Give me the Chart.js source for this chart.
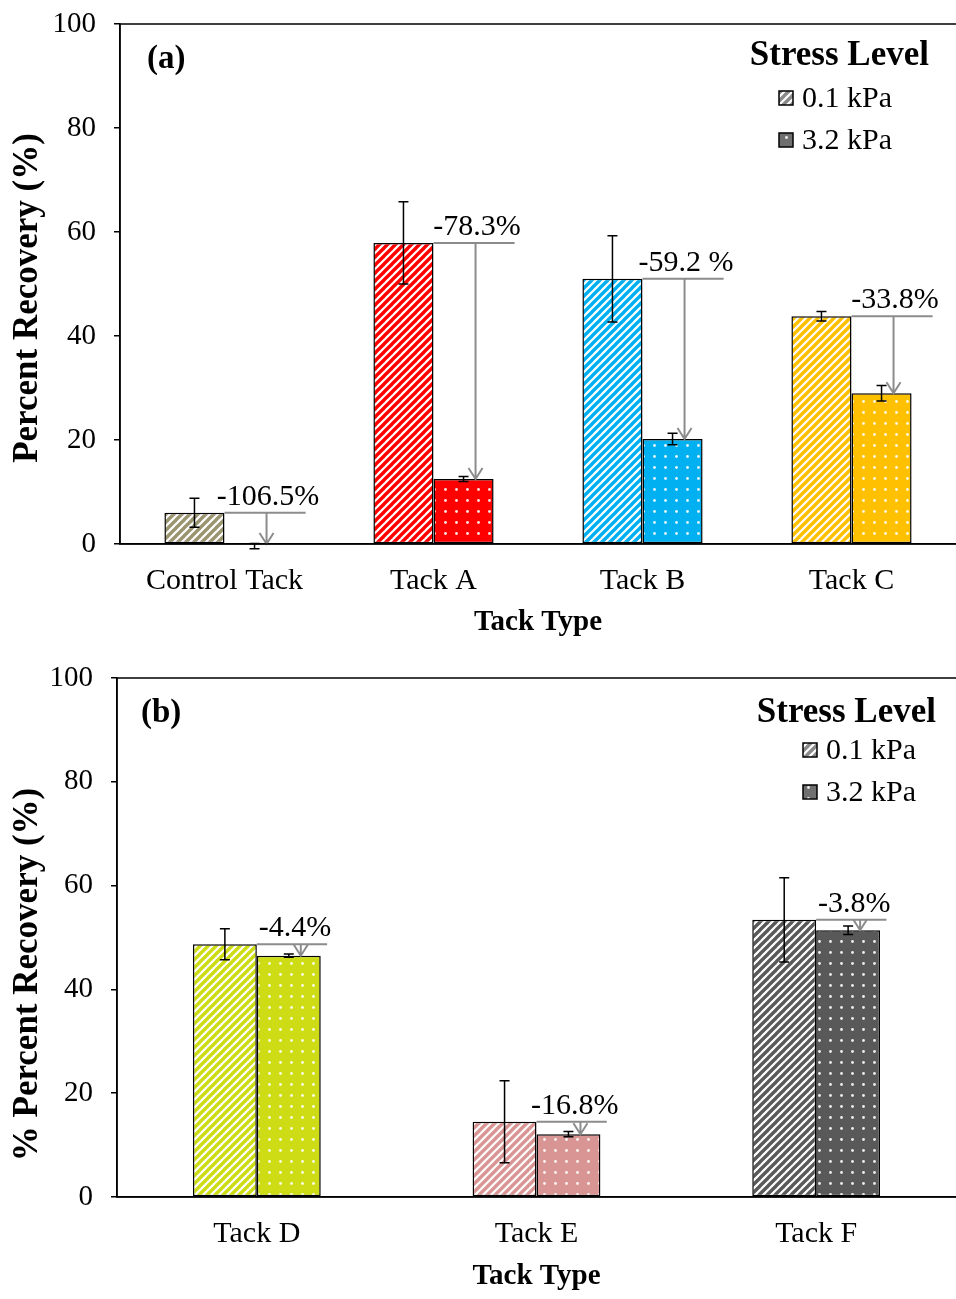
<!DOCTYPE html>
<html>
<head>
<meta charset="utf-8">
<script src="https://cdn.jsdelivr.net/npm/chart.js@4.4.1/dist/chart.umd.min.js"></script>
<style>
  body { margin: 0; background: #fff; }
  .wrap { width: 956px; position: relative; }
  canvas { display: block; }
</style>
</head>
<body>
<div class="wrap"><canvas id="chartA" width="956" height="650"></canvas></div>
<div class="wrap"><canvas id="chartB" width="956" height="649"></canvas></div>
<script>
// ---- data, panel (a)
var tacksA = ['Control Tack', 'Tack A', 'Tack B', 'Tack C'];
var lowA = [6.0, 57.9, 51.0, 43.8];        // 0.1 kPa
var lowErrA = [2.8, 7.9, 8.3, 0.9];
var highA = [-0.4, 12.5, 20.2, 29.0];      // 3.2 kPa
var highErrA = [0.5, 0.5, 1.1, 1.5];
var changeA = ['-106.5%', '-78.3%', '-59.2 %', '-33.8%'];
var colorsA = ['#9a9470', '#ff0000', '#00b0f0', '#ffc000'];

// ---- data, panel (b)
var tacksB = ['Tack D', 'Tack E', 'Tack F'];
var lowB = [48.7, 14.5, 53.4];
var lowErrB = [3.0, 7.9, 8.1];
var highB = [46.5, 12.1, 51.4];
var highErrB = [0.3, 0.5, 0.8];
var changeB = ['-4.4%', '-16.8%', '-3.8%'];
var colorsB = ['#cddc14', '#d99594', '#595959'];

var yTicks = [0, 20, 40, 60, 80, 100];
var stressLevels = ['0.1 kPa', '3.2 kPa'];

var SERIF = "'Liberation Serif', 'Times New Roman', serif";

function hatch(color) {
  var c = document.createElement('canvas');
  c.width = 8; c.height = 8;
  var g = c.getContext('2d');
  g.fillStyle = '#fff';
  g.fillRect(0, 0, 8, 8);
  g.strokeStyle = color;
  g.lineWidth = 3.4;
  [[-8, 8, 8, -8], [0, 8, 8, 0], [0, 16, 16, 0]].forEach(function(l) {
    g.beginPath();
    g.moveTo(l[0], l[1]);
    g.lineTo(l[2], l[3]);
    g.stroke();
  });
  return g.createPattern(c, 'repeat');
}

function dots(color) {
  var c = document.createElement('canvas');
  c.width = 11; c.height = 11;
  var g = c.getContext('2d');
  g.fillStyle = color;
  g.fillRect(0, 0, 11, 11);
  g.fillStyle = 'rgba(255,255,255,0.9)';
  g.beginPath();
  g.arc(5.5, 5.5, 1.4, 0, Math.PI * 2);
  g.fill();
  return g.createPattern(c, 'repeat');
}

// error bars + change arrows + legend + panel label + y title
var extrasPlugin = {
  id: 'extras',
  afterDatasetsDraw: function(chart, args, opts) {
    var ctx = chart.ctx;
    var y = chart.scales.y;
    var area = chart.chartArea;
    ctx.save();

    // error bars
    ctx.strokeStyle = '#000';
    ctx.lineWidth = 1.5;
    [0, 1].forEach(function(di) {
      var meta = chart.getDatasetMeta(di);
      var vals = chart.data.datasets[di].data;
      var errs = opts.errors[di];
      meta.data.forEach(function(bar, i) {
        var top = y.getPixelForValue(vals[i] + errs[i]);
        var bot = y.getPixelForValue(vals[i] - errs[i]);
        ctx.beginPath();
        ctx.moveTo(bar.x, top); ctx.lineTo(bar.x, bot);
        ctx.moveTo(bar.x - 5, top); ctx.lineTo(bar.x + 5, top);
        ctx.moveTo(bar.x - 5, bot); ctx.lineTo(bar.x + 5, bot);
        ctx.stroke();
      });
    });

    // change arrows
    var m0 = chart.getDatasetMeta(0), m1 = chart.getDatasetMeta(1);
    ctx.strokeStyle = '#8c8c8c';
    ctx.lineWidth = 2;
    ctx.fillStyle = '#000';
    ctx.font = '30px ' + SERIF;
    ctx.textAlign = 'center';
    ctx.textBaseline = 'alphabetic';
    m0.data.forEach(function(b0, i) {
      var b1 = m1.data[i];
      var x0 = b0.x + b0.width / 2;
      var x1 = b1.x + b1.width / 2 + b1.width * opts.lineExtra;
      var ax = b1.x + 12;
      var yTop = b0.y;
      var yEnd = Math.min(b1.y, y.getPixelForValue(0));
      ctx.beginPath();
      ctx.moveTo(x0, yTop); ctx.lineTo(x1, yTop);
      ctx.moveTo(ax, yTop); ctx.lineTo(ax, yEnd);
      ctx.moveTo(ax - 7, yEnd - 11); ctx.lineTo(ax, yEnd); ctx.lineTo(ax + 7, yEnd - 11);
      ctx.stroke();
      ctx.fillText(opts.changes[i], (x0 + x1) / 2 + 3, yTop - 8);
    });

    // plot frame
    ctx.strokeStyle = '#000';
    ctx.lineWidth = 1.5;
    ctx.strokeRect(area.left, area.top, area.right - area.left + 2, area.bottom - area.top);

    // panel label
    ctx.textAlign = 'left';
    ctx.textBaseline = 'middle';
    ctx.font = 'bold 33px ' + SERIF;
    ctx.fillText(opts.panel, area.left + opts.panelDx, area.top + 35);

    // y axis title
    ctx.save();
    ctx.translate(28, (area.top + area.bottom) / 2 + opts.yTitleDy);
    ctx.rotate(-Math.PI / 2);
    ctx.textAlign = 'center';
    ctx.font = 'bold 35px ' + SERIF;
    ctx.fillText(opts.yTitle, 0, 0);
    ctx.restore();

    // legend
    var lg = opts.legend;
    ctx.textAlign = 'right';
    ctx.font = 'bold 35px ' + SERIF;
    ctx.fillText('Stress Level', lg.titleRight, lg.titleY);
    ctx.textAlign = 'left';
    ctx.font = '30px ' + SERIF;
    [hatch('#8a8a8a'), dots('#6f6f6f')].forEach(function(pat, k) {
      var sy = lg.itemY + k * 42;
      ctx.fillStyle = pat;
      ctx.fillRect(lg.swatchX, sy - 7, 14, 14);
      ctx.strokeStyle = '#000';
      ctx.lineWidth = 1.5;
      ctx.strokeRect(lg.swatchX, sy - 7, 14, 14);
      ctx.fillStyle = '#000';
      ctx.fillText(stressLevels[k], lg.swatchX + 23, sy + 1);
    });
    ctx.restore();
  }
};

function makeChart(id, cats, low, lowErr, high, highErr, changes, colors, cfg) {
  return new Chart(document.getElementById(id), {
    type: 'bar',
    data: {
      labels: cats,
      datasets: [{
        label: stressLevels[0],
        data: low,
        backgroundColor: colors.map(hatch),
        borderColor: '#000',
        borderWidth: 1.5,
        borderSkipped: false
      }, {
        label: stressLevels[1],
        data: high,
        backgroundColor: colors.map(dots),
        borderColor: '#000',
        borderWidth: 1.5,
        borderSkipped: false
      }]
    },
    options: {
      responsive: false,
      animation: false,
      events: [],
      layout: { padding: { top: cfg.top, right: 0, left: 0, bottom: 0 } },
      datasets: { bar: { barPercentage: 1, categoryPercentage: cfg.catPct } },
      plugins: {
        legend: { display: false },
        tooltip: { enabled: false },
        extras: {
          errors: [lowErr, highErr],
          changes: changes,
          lineExtra: cfg.lineExtra,
          panel: cfg.panel,
          panelDx: cfg.panelDx,
          yTitle: cfg.yTitle,
          yTitleDy: cfg.yTitleDy,
          legend: cfg.legend
        }
      },
      scales: {
        x: {
          grid: { display: false, drawTicks: false },
          border: { display: true, color: '#000', width: 1.5 },
          ticks: { color: '#000', font: { family: SERIF, size: 30 }, padding: 19, maxRotation: 0 },
          title: { display: true, text: 'Tack Type', color: '#000', font: { family: SERIF, size: 29, weight: 'bold' }, padding: { top: 4, bottom: cfg.titlePadB } },
          afterFit: function(s) { s.height = cfg.xHeight; s.paddingLeft = 0; s.paddingRight = 0; }
        },
        y: {
          min: 0, max: 100,
          afterBuildTicks: function(s) { s.ticks = yTicks.map(function(v) { return { value: v }; }); },
          grid: { drawOnChartArea: false, drawTicks: true, tickLength: 6, color: '#000', lineWidth: 1.5 },
          border: { display: true, color: '#000', width: 1.5 },
          ticks: { color: '#000', font: { family: SERIF, size: 29 }, padding: cfg.tickPad },
          title: { display: false },
          afterFit: function(s) { s.width = cfg.yWidth; s.paddingTop = 0; s.paddingBottom = 0; }
        }
      }
    },
    plugins: [extrasPlugin]
  });
}

makeChart('chartA', tacksA, lowA, lowErrA, highA, highErrA, changeA, colorsA, {
  top: 24, xHeight: 106, yWidth: 120, tickPad: 18, catPct: 0.575, lineExtra: 0.35, titlePadB: 10,
  yTitle: 'Percent Recovery (%)', yTitleDy: 14, panel: '(a)', panelDx: 27,
  legend: { titleRight: 929, titleY: 56, swatchX: 779, itemY: 98 }
});

makeChart('chartB', tacksB, lowB, lowErrB, highB, highErrB, changeB, colorsB, {
  top: 28, xHeight: 102, yWidth: 117, tickPad: 18, catPct: 0.457, lineExtra: 0.1, titlePadB: 5,
  yTitle: '% Percent Recovery (%)', yTitleDy: 37, panel: '(b)', panelDx: 24,
  legend: { titleRight: 936, titleY: 63, swatchX: 803, itemY: 100 }
});
</script>
</body>
</html>
